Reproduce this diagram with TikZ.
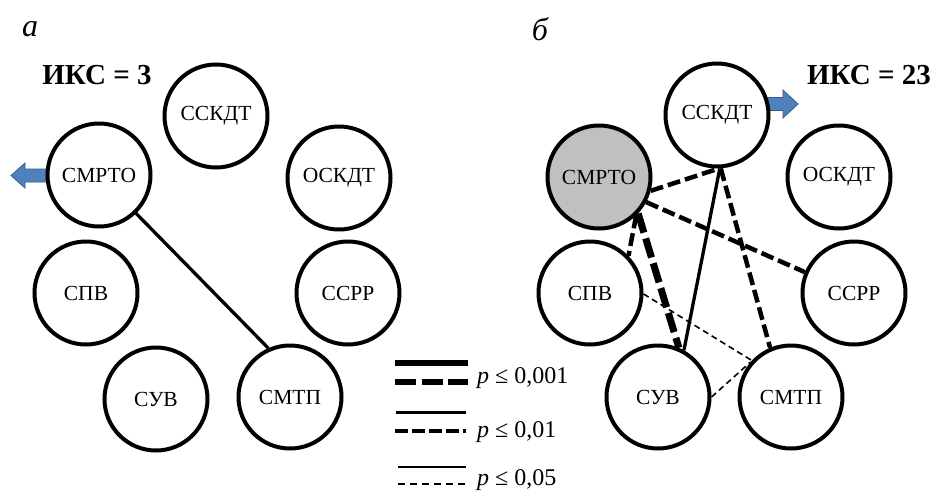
\documentclass[tikz,border=0pt]{standalone}
\usepackage{fontspec}
\setmainfont{Liberation Serif}
\usetikzlibrary{backgrounds}
\definecolor{arrblue}{HTML}{4F81BD}
\definecolor{arrline}{HTML}{385D8A}
\definecolor{nodegray}{HTML}{C0C0C0}
\tikzset{
  circnode/.style={circle, draw=black, line width=4pt, fill=white, minimum size=103pt, inner sep=0pt, font=\fontsize{21.5}{24}\selectfont},
  graynode/.style={circnode, fill=nodegray},
  soldmed/.style={line width=3.3pt},
  dashmed/.style={line width=4.5pt, dash pattern=on 13pt off 5pt},
  dashthick/.style={line width=7pt, dash pattern=on 20pt off 6pt},
  dashthin/.style={line width=1.6pt, dash pattern=on 6pt off 4pt},
  blockarrow/.style={fill=arrblue, draw=arrline, line width=0.8pt},
  panellabel/.style={font=\fontsize{32}{36}\selectfont\itshape},
  ikslabel/.style={font=\fontsize{29}{32}\selectfont\bfseries},
  legtext/.style={anchor=base west, font=\fontsize{24}{28}\selectfont, inner sep=0pt}
}
\begin{document}
\begin{tikzpicture}[x=1pt, y=-1pt]
\useasboundingbox (0,0) rectangle (935,491);

% panel labels
\node[panellabel] (la) at (30,29) {а};
\node[panellabel] (lb) at (540,29) {б};
\node[ikslabel] (iksa) at (97,75) {ИКС = 3};
\node[ikslabel] (iksb) at (869,75) {ИКС = 23};

% ---- panel a ----
\node[circnode] (sska) at (216,116) {ССКДТ};
\node[circnode] (smrtoa) at (99,175) {СМРТО};
\node[circnode] (oska) at (339,178) {ОСКДТ};
\node[circnode] (spva) at (86,293) {СПВ};
\node[circnode] (ssrra) at (348,293) {ССРР};
\node[circnode] (suva) at (156,399) {СУВ};
\node[circnode] (smtpa) at (290,397) {СМТП};

\draw[soldmed] (smrtoa.-46) -- (smtpa.114);

% ---- panel b ----
\node[circnode] (sskb) at (717,115) {ССКДТ};
\node[graynode] (smrtob) at (599,177) {СМРТО};
\node[circnode] (oskb) at (839,177) {ОСКДТ};
\node[circnode] (spvb) at (590,293) {СПВ};
\node[circnode] (ssrrb) at (854,293) {ССРР};
\node[circnode] (suvb) at (658,397) {СУВ};
\node[circnode] (smtpb) at (791,397) {СМТП};

\draw[dashmed] (smrtob.-15) -- (sskb.-88);
\draw[dashmed] (smrtob.-28) -- (ssrrb.157);
\draw[dashmed] (smrtob.-46) -- (spvb.44);
\draw[dashthick] (smrtob.-43) -- (suvb.67);
\draw[soldmed] (sskb.-87) -- (suvb.61);
\draw[dashmed] (sskb.-86) -- (smtpb.113);
\draw[dashthin] (spvb.-1) -- (smtpb.137);
\draw[dashthin] (suvb.0) -- (smtpb.139);

% block arrows behind circles
\begin{pgfonlayer}{background}
\draw[blockarrow] (48,169) -- (25,169) -- (25,163) -- (11,175.5) -- (25,188) -- (25,182) -- (48,182) -- cycle;
\draw[blockarrow] (766,97.5) -- (783,97.5) -- (783,90) -- (798,104) -- (783,118) -- (783,110.5) -- (766,110.5) -- cycle;
\end{pgfonlayer}

% ---- legend ----
\coordinate (l1a) at (395,363); \coordinate (l1b) at (468,363);
\coordinate (l2a) at (395,382); \coordinate (l2b) at (468,382);
\coordinate (l3a) at (396,412); \coordinate (l3b) at (466,412);
\coordinate (l4a) at (395,431); \coordinate (l4b) at (466,431);
\coordinate (l5a) at (398,467); \coordinate (l5b) at (466,467);
\coordinate (l6a) at (398,484); \coordinate (l6b) at (466,484);
\draw[line width=6pt] (l1a) -- (l1b);
\draw[line width=6pt, dash pattern=on 21pt off 5.5pt] (l2a) -- (l2b);
\draw[line width=3pt] (l3a) -- (l3b);
\draw[line width=4pt, dash pattern=on 13pt off 4pt] (l4a) -- (l4b);
\draw[line width=1.3pt] (l5a) -- (l5b);
\draw[line width=1.3pt, dash pattern=on 7pt off 5pt] (l6a) -- (l6b);
\node[legtext] (t1) at (477,383) {\textit{p} ≤ 0,001};
\node[legtext] (t2) at (477,437) {\textit{p} ≤ 0,01};
\node[legtext] (t3) at (477,485) {\textit{p} ≤ 0,05};
\end{tikzpicture}
\end{document}
